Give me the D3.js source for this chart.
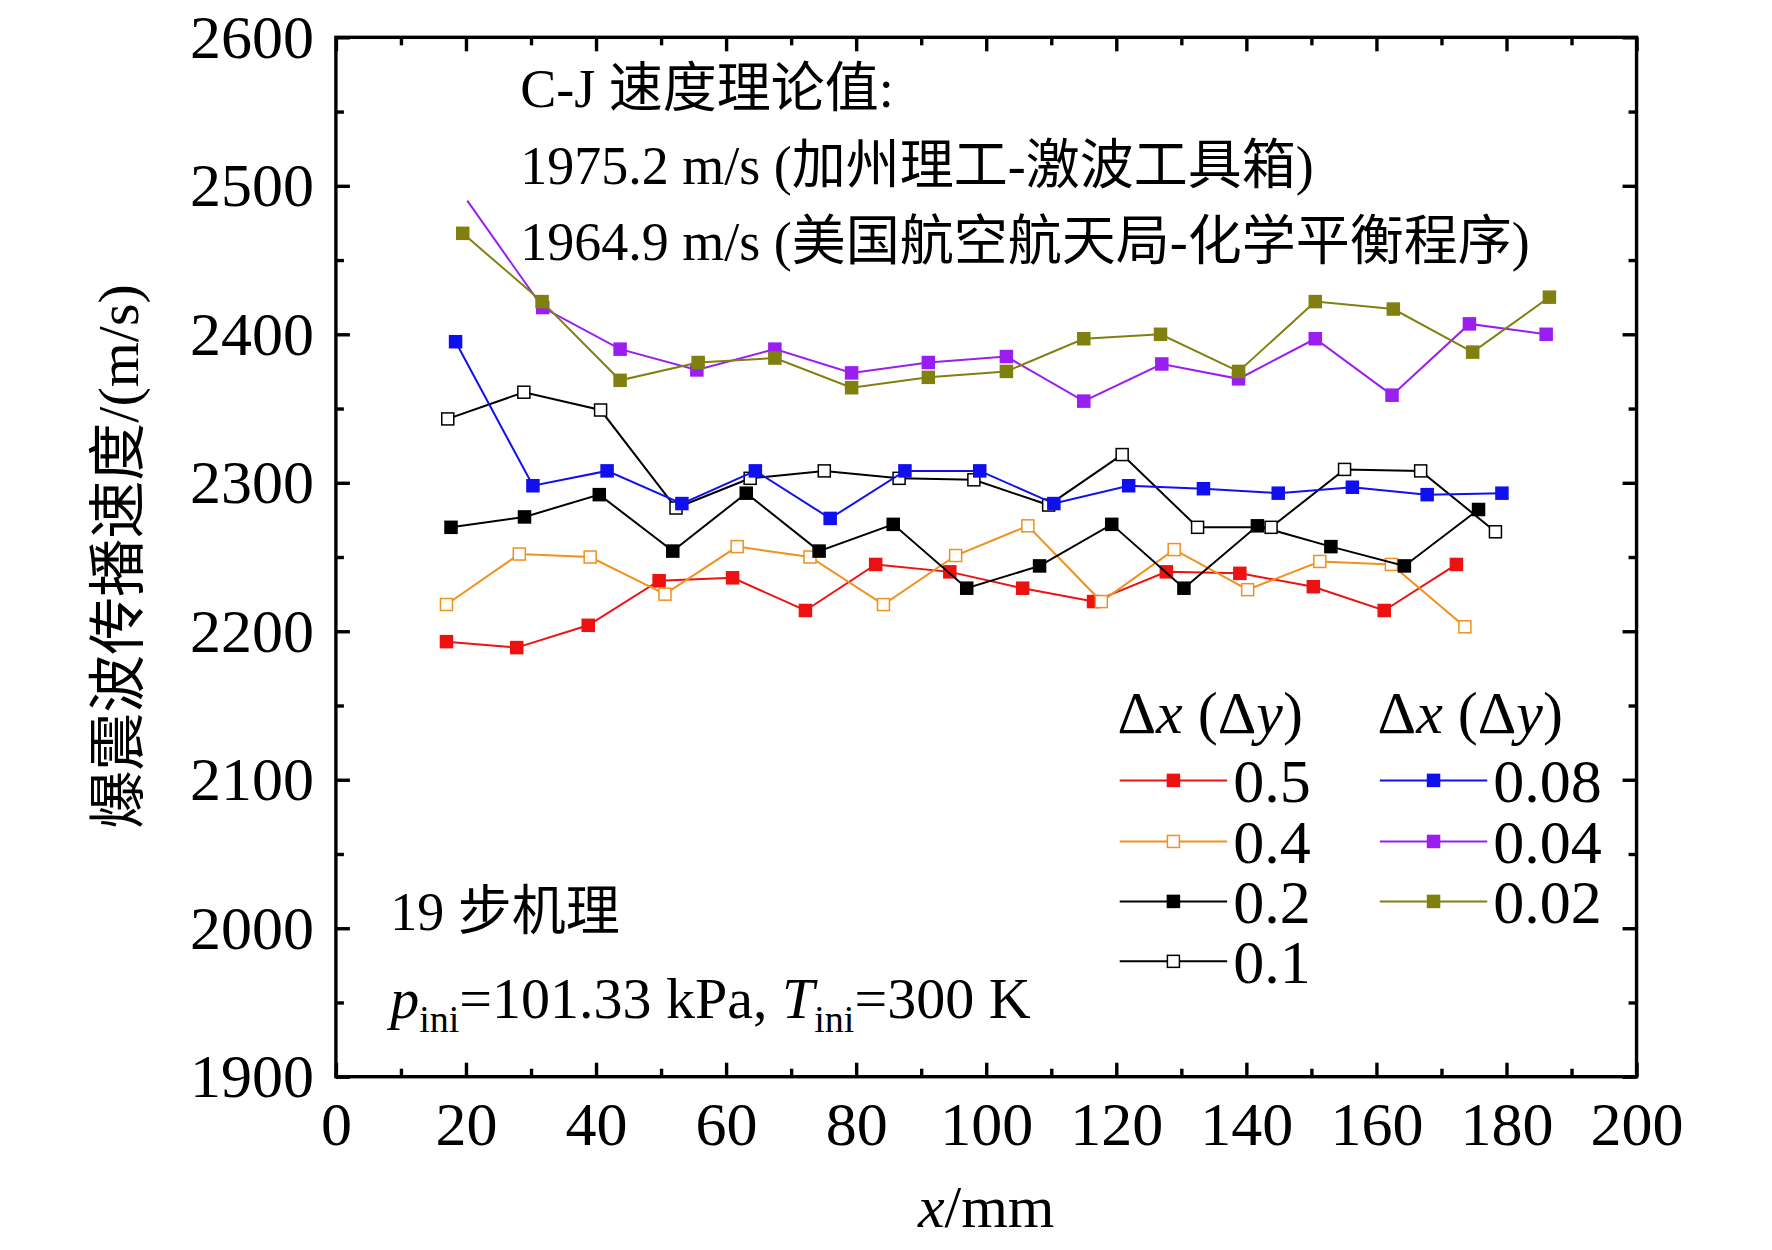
<!DOCTYPE html>
<html><head><meta charset="utf-8">
<script src="https://cdn.jsdelivr.net/npm/d3@7"></script>
<style>body{margin:0;background:#fff}text{font-family:"Liberation Serif","Noto Sans CJK SC",serif}</style>
</head><body><svg id="c" width="1772" height="1250"></svg>
<script>
const xTicks=[0,20,40,60,80,100,120,140,160,180,200];
const yTicks=[1900,2000,2100,2200,2300,2400,2500,2600];
const names=["0.5","0.4","0.2","0.1","0.08","0.04","0.02"];
const colors=["#ee1111","#f0901e","#000000","#000000","#1010ee","#9a1ef0","#808010"];
const filled=[true,false,true,false,true,true,true];
const x05=[17,27.8,38.8,49.7,61,72.2,83,94.4,105.6,116.5,127.7,139,150.3,161.2,172.3];
const y05=[2193,2189,2204,2234,2236,2214,2245,2240,2229,2220,2240,2239,2230,2214,2245];
const x04=[17,28.2,39.1,50.6,61.7,72.9,84.2,95.3,106.4,117.7,128.9,140.2,151.3,162.3,173.6];
const y04=[2218,2252,2250,2225,2257,2250,2218,2251,2271,2220,2255,2228,2247,2245,2203];
const x02=[17.7,29,40.5,51.8,63.1,74.3,85.7,97,108.2,119.3,130.4,141.7,153,164.3,175.7];
const y02=[2270,2277,2292,2254,2293,2254,2272,2229,2244,2272,2229,2271,2257,2244,2282];
const x01=[17.2,28.9,40.7,52.3,63.7,75.1,86.6,98.1,109.6,120.9,132.5,143.8,155.1,166.8,178.3];
const y01=[2343,2361,2349,2283,2303,2308,2303,2302,2285,2319,2270,2270,2309,2308,2267];
const x008=[18.4,30.3,41.7,53.2,64.5,76,87.5,99,110.4,121.9,133.4,144.9,156.3,167.8,179.3];
const y008=[2395,2298,2308,2286,2308,2276,2308,2308,2286,2298,2296,2293,2297,2292,2293];
const x004=[20.2,31.8,43.7,55.5,67.5,79.3,91.1,103.1,115,127,138.8,150.6,162.4,174.3,186.1];
const y004=[2490,2418,2390,2376,2390,2374,2381,2385,2355,2380,2370,2397,2359,2407,2400];
const x002=[19.5,31.7,43.7,55.7,67.5,79.3,91.1,103.1,115,126.8,138.8,150.6,162.6,174.8,186.6];
const y002=[2468,2422,2369,2381,2384,2364,2371,2375,2397,2400,2375,2422,2417,2388,2425];
const xs=[x05,x04,x02,x01,x008,x004,x002], ys=[y05,y04,y02,y01,y008,y004,y002];

const k=1.131;
const svg=d3.select("#c");
const L=297*k,R=1447*k,T=33*k,B=952*k;
const x=d3.scaleLinear().domain([0,200]).range([L,R]);
const y=d3.scaleLinear().domain([1900,2600]).range([B,T]);
const sw=3.4;
function axis(gen,tr){const g=svg.append("g").attr("transform",tr).call(gen);g.select(".domain").remove();g.selectAll("line").attr("stroke","#000").attr("stroke-width",sw);return g;}
const xMinor=d3.range(10,200,20), yMinor=d3.range(1950,2600,100);
const gb=axis(d3.axisBottom(x).tickValues(xTicks).tickSize(-14).tickPadding(16).tickFormat(d3.format("d")),`translate(0,${B})`);
gb.selectAll("text").attr("font-size",62).attr("fill","#000").attr("dy","0.85em");
axis(d3.axisBottom(x).tickValues(xMinor).tickSize(-8).tickFormat(""),`translate(0,${B})`);
axis(d3.axisTop(x).tickValues(xTicks).tickSize(-14).tickFormat(""),`translate(0,${T})`);
axis(d3.axisTop(x).tickValues(xMinor).tickSize(-8).tickFormat(""),`translate(0,${T})`);
const gl=axis(d3.axisLeft(y).tickValues(yTicks).tickSize(-14).tickPadding(22).tickFormat(d3.format("d")),`translate(${L},0)`);
gl.selectAll("text").attr("font-size",62).attr("fill","#000");
axis(d3.axisLeft(y).tickValues(yMinor).tickSize(-8).tickFormat(""),`translate(${L},0)`);
axis(d3.axisRight(y).tickValues(yTicks).tickSize(-14).tickFormat(""),`translate(${R},0)`);
axis(d3.axisRight(y).tickValues(yMinor).tickSize(-8).tickFormat(""),`translate(${R},0)`);
svg.append("rect").attr("x",L).attr("y",T).attr("width",R-L).attr("height",B-T).attr("fill","none").attr("stroke","#000").attr("stroke-width",sw);

const ann=[["C-J 速度理论值:",460,95],["1975.2 m/s (加州理工-激波工具箱)",460,163],["1964.9 m/s (美国航空航天局-化学平衡程序)",460,230],["19 步机理",345,822]];
ann.forEach(a=>svg.append("text").attr("x",a[1]*k).attr("y",a[2]*k).attr("font-size",54).text(a[0]));
const pt=svg.append("text").attr("x",345*k).attr("y",900*k).attr("font-size",58);
pt.append("tspan").attr("font-style","italic").text("p");
pt.append("tspan").attr("font-size",38).attr("dy",14).text("ini");
pt.append("tspan").attr("dy",-14).text("=101.33 kPa, ");
pt.append("tspan").attr("font-style","italic").text("T");
pt.append("tspan").attr("font-size",38).attr("dy",14).text("ini");
pt.append("tspan").attr("dy",-14).text("=300 K");

svg.append("clipPath").attr("id","cp").append("rect").attr("x",L).attr("y",T).attr("width",R-L).attr("height",B-T);
const line=d3.line().x(d=>x(d[0])).y(d=>y(d[1]));
const ms=12;
names.forEach((n,i)=>{
  const data=xs[i].map((v,j)=>[v,ys[i][j]]);
  const g=svg.append("g").attr("clip-path","url(#cp)");
  g.append("path").datum(data).attr("d",line).attr("fill","none").attr("stroke",colors[i]).attr("stroke-width",2);
  g.selectAll("rect").data(i==5?data.slice(1):data).enter().append("rect")
   .attr("x",d=>x(d[0])-ms/2).attr("y",d=>y(d[1])-ms/2).attr("width",ms).attr("height",ms)
   .attr("fill",filled[i]?colors[i]:"#fff").attr("stroke",colors[i]).attr("stroke-width",1.5);
});

function hdr(xp){const t=svg.append("text").attr("x",xp*k).attr("y",648*k).attr("font-size",60);
 t.append("tspan").text("Δ");t.append("tspan").attr("font-style","italic").text("x");t.append("tspan").text(" (Δ");t.append("tspan").attr("font-style","italic").text("y");t.append("tspan").text(")");}
hdr(988);hdr(1218);
const rows=[690,744,797,850];
names.forEach((n,i)=>{
  const col=i<4?0:1,r=i<4?i:i-4;
  const x0=(col?1220:990)*k,x1=(col?1315:1085)*k,yy=rows[r]*k;
  svg.append("line").attr("x1",x0).attr("x2",x1).attr("y1",yy).attr("y2",yy).attr("stroke",colors[i]).attr("stroke-width",2);
  svg.append("rect").attr("x",(x0+x1)/2-ms/2).attr("y",yy-ms/2).attr("width",ms).attr("height",ms)
   .attr("fill",filled[i]?colors[i]:"#fff").attr("stroke",colors[i]).attr("stroke-width",1.5);
  svg.append("text").attr("x",x1+6).attr("y",yy+22).attr("font-size",62).text(n);
});

const xt=svg.append("text").attr("x",872*k).attr("y",1085*k).attr("text-anchor","middle").attr("font-size",60);
xt.append("tspan").attr("font-style","italic").text("x");xt.append("tspan").text("/mm");
svg.append("text").attr("transform",`translate(${122*k},${492*k}) rotate(-90)`).attr("text-anchor","middle").attr("font-size",58).text("爆震波传播速度/(m/s)");
</script></body></html>
